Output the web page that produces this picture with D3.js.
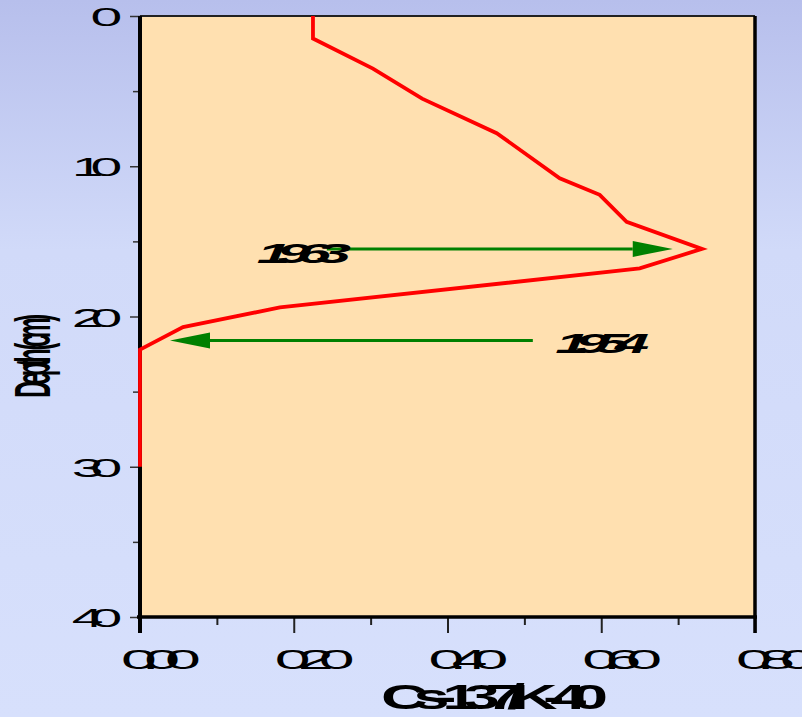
<!DOCTYPE html>
<html lang="en">
<head>
  <meta charset="UTF-8" />
  <title>Cs-137/K-40 depth profile</title>
  <script src="https://d3js.org/d3.v7.min.js"></script>
  <style>
    body { margin: 0; background: #d4ddfb; }
    text { font-family: 'Liberation Sans', Arial, sans-serif; fill: #000; }
  </style>
</head>
<body>
  <svg id="chart" width="802" height="717"></svg>

  <script>
    // Profile: depth (cm) vs Cs-137/K-40 ratio
    const depths = [0, 1.5, 3.5, 5.5, 7.8, 10.8, 11.9, 13.7, 15.5, 16.8, 19.4, 20.7, 22.2, 30];
    const ratios = [0.225, 0.225, 0.303, 0.367, 0.464, 0.546, 0.598, 0.633, 0.731, 0.650, 0.182, 0.056, 0, 0];

    // Axis ticks
    const xTicks = [0, 0.2, 0.4, 0.6, 0.8];
    const xMinor = [0.1, 0.3, 0.5, 0.7];
    const xTickLabels = ["0.00", "0.20", "0.40", "0.60", "0.80"];
    const yTicks = [0, 10, 20, 30, 40];
    const yMinor = [5, 15, 25, 35];
    const yTickLabels = ["0", "10", "20", "30", "40"];

    // Marker years: arrow at depth, from -> to ratio, label start
    const markYears = ["1963", "1954"];
    const markDepths = [15.5, 21.6];
    const markFrom = [0.243, 0.511];
    const markTo = [0.693, 0.039];
    const markLabelX = [0.152, 0.54];
    const markLabelDepth = [16.45, 22.45];

    const xTitle = "Cs-137/K-40";
    const yTitle = "Depth (cm)";

    const W = 802, H = 717;
    const margin = { top: 16, right: 47, bottom: 100, left: 140 };

    const svg = d3.select("#chart");

    // background gradient
    const defs = svg.append("defs");
    const grad = defs.append("linearGradient")
      .attr("id", "bg").attr("x1", 0).attr("y1", 0).attr("x2", 0).attr("y2", 1);
    grad.append("stop").attr("offset", "0").attr("stop-color", "#b7bfec");
    grad.append("stop").attr("offset", "0.35").attr("stop-color", "#d1daf9");
    grad.append("stop").attr("offset", "1").attr("stop-color", "#d7e0fc");
    svg.append("rect").attr("width", W).attr("height", H).attr("fill", "url(#bg)");

    const x = d3.scaleLinear().domain([0, 0.8]).range([margin.left, W - margin.right]);
    const y = d3.scaleLinear().domain([0, 40]).range([margin.top, H - margin.bottom]);

    // plot area
    svg.append("rect")
      .attr("x", x(0)).attr("y", y(0))
      .attr("width", x(0.8) - x(0)).attr("height", y(40) - y(0))
      .attr("fill", "#ffe0b0");

    // top / right frame
    svg.append("line")
      .attr("x1", x(0)).attr("x2", x(0.8)).attr("y1", y(0)).attr("y2", y(0))
      .attr("stroke", "#222").attr("stroke-width", 2);
    svg.append("line")
      .attr("x1", x(0.8)).attr("x2", x(0.8)).attr("y1", y(0)).attr("y2", y(40))
      .attr("stroke", "#000").attr("stroke-width", 3.5);

    // axes (tick marks only, labels drawn below)
    const gy = svg.append("g").attr("transform", `translate(${x(0)},0)`);
    gy.call(d3.axisLeft(y).tickValues(yTicks).tickSize(10).tickFormat(""));
    gy.append("g").call(d3.axisLeft(y).tickValues(yMinor).tickSize(7).tickFormat(""));
    gy.selectAll(".domain").remove();
    gy.selectAll(".tick line").attr("stroke", "#333").attr("stroke-width", 1.5);

    const gx = svg.append("g").attr("transform", `translate(0,${y(40)})`);
    gx.call(d3.axisBottom(x).tickValues(xTicks).tickSize(16).tickFormat(""));
    gx.append("g").call(d3.axisBottom(x).tickValues(xMinor).tickSize(8).tickFormat(""));
    gx.selectAll(".domain").remove();
    gx.selectAll(".tick line").attr("stroke", "#222").attr("stroke-width", 2);

    // axis lines
    svg.append("line")
      .attr("x1", x(0)).attr("x2", x(0)).attr("y1", y(0)).attr("y2", y(40) + 16)
      .attr("stroke", "#000").attr("stroke-width", 4);
    svg.append("line")
      .attr("x1", x(0) - 3).attr("x2", x(0.8) + 2).attr("y1", y(40)).attr("y2", y(40))
      .attr("stroke", "#000").attr("stroke-width", 3.5);
    svg.append("line")
      .attr("x1", x(0.8)).attr("x2", x(0.8)).attr("y1", y(40)).attr("y2", y(40) + 16)
      .attr("stroke", "#000").attr("stroke-width", 3.5);

    // squeezed text helper (overlapping wide glyphs as in the original)
    function squish(str, tx, ty, o) {
      const rot = o.rotate ? ` rotate(${o.rotate})` : "";
      return svg.append("text")
        .attr("transform", `translate(${tx},${ty})${rot} scale(${o.sx},1)`)
        .attr("text-anchor", o.anchor || "start")
        .style("font-size", o.size + "px")
        .style("font-weight", o.weight || "normal")
        .style("font-style", o.style || "normal")
        .style("letter-spacing", o.ls + "px")
        .text(str);
    }

    yTicks.forEach((v, i) => {
      squish(yTickLabels[i], 109, y(v) + 10, { size: 26, sx: 2.2, ls: -6, anchor: "end" });
    });
    xTicks.forEach((v, i) => {
      squish(xTickLabels[i], x(v) - 19, y(40) + 52, { size: 28, sx: 2.3, ls: -6.6 });
    });

    squish(xTitle, 381, 709, { size: 36, sx: 1.8, ls: -8, weight: "bold" });
    squish(yTitle, 50, 358, { size: 50, sx: 0.47, ls: -9.2, weight: "bold", anchor: "middle", rotate: -90 });

    // profile line
    const line = d3.line().x(d => x(d[1])).y(d => y(d[0]));
    svg.append("path")
      .datum(depths.map((d, i) => [d, ratios[i]]))
      .attr("d", line)
      .attr("fill", "none")
      .attr("stroke", "#ff0000")
      .attr("stroke-width", 3.8)
      .attr("stroke-linejoin", "miter");

    // year arrows
    markYears.forEach((yr, i) => {
      const yy = y(markDepths[i]);
      const x0 = x(markFrom[i]), x1 = x(markTo[i]);
      const dir = x1 > x0 ? 1 : -1;
      const headLen = 40, headHalf = 8;
      svg.append("line")
        .attr("x1", x0).attr("x2", x1 - dir * headLen)
        .attr("y1", yy).attr("y2", yy)
        .attr("stroke", "#008000").attr("stroke-width", 3);
      svg.append("polygon")
        .attr("points", [[x1, yy], [x1 - dir * headLen, yy - headHalf], [x1 - dir * headLen, yy + headHalf]].join(" "))
        .attr("fill", "#008000");
      squish(yr, x(markLabelX[i]), y(markLabelDepth[i]), { size: 28, sx: 2.2, ls: -6.5, weight: "bold", style: "italic" });
    });
  </script>
</body>
</html>
